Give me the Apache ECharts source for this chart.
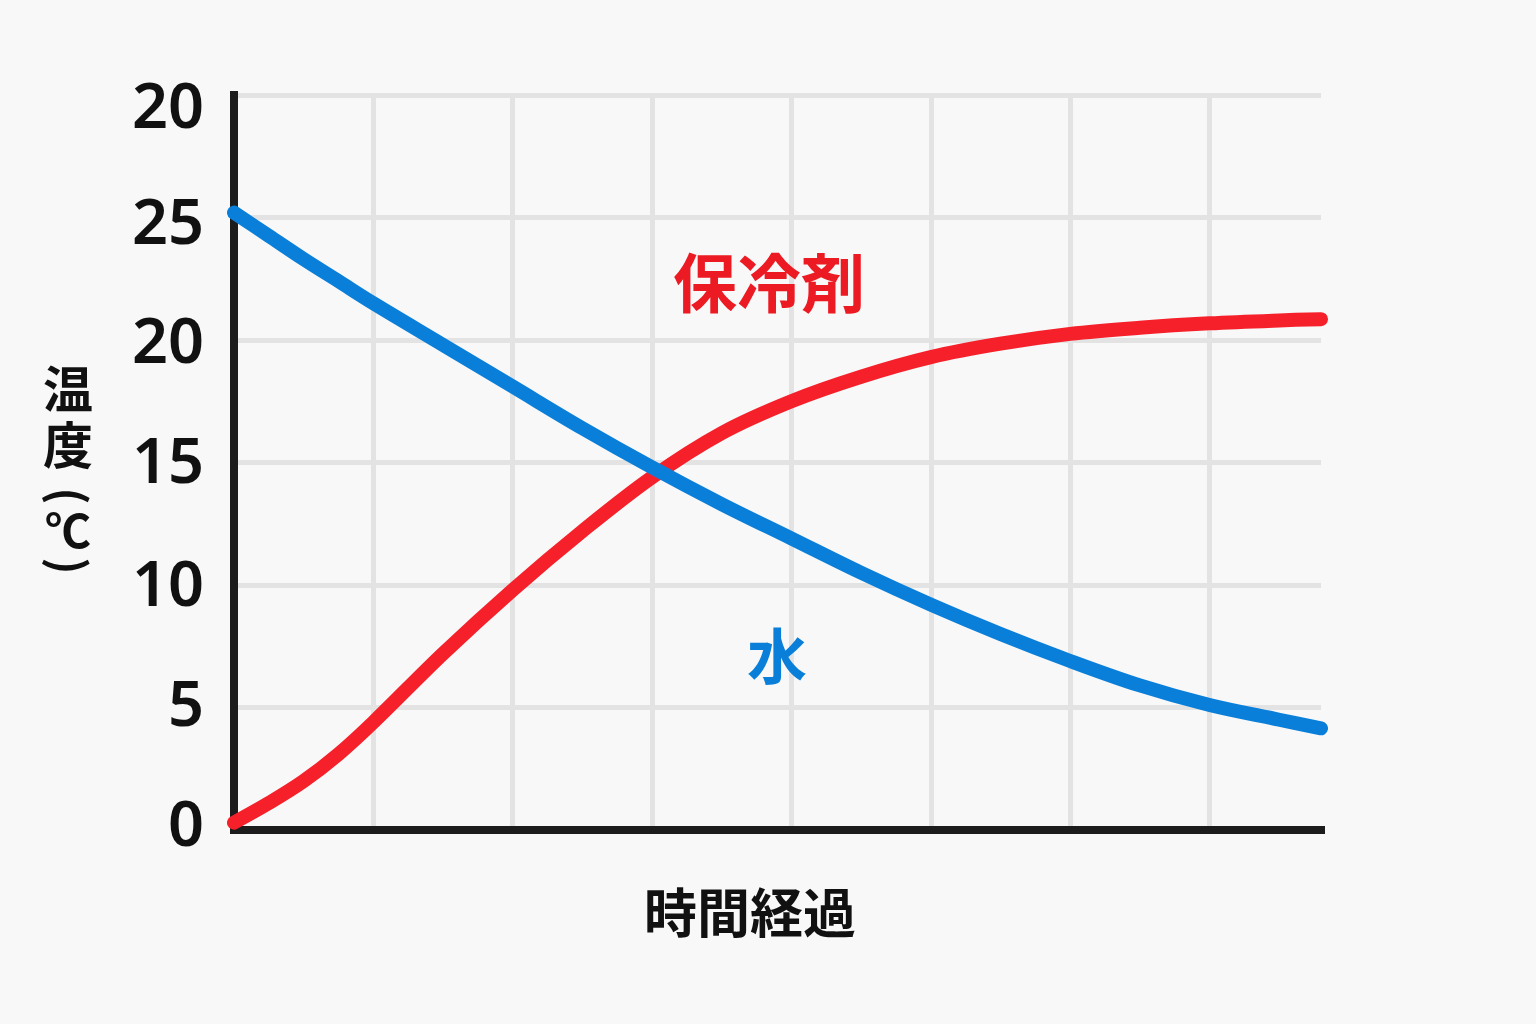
<!DOCTYPE html>
<html>
<head>
<meta charset="utf-8">
<script src="https://cdn.jsdelivr.net/npm/echarts@6/dist/echarts.min.js"></script>
<style>
html,body{margin:0;padding:0;background:#f8f8f8;}
#chart{width:1536px;height:1024px;}
</style>
</head>
<body>
<div id="chart"></div>
<script>
// x positions (time steps, arbitrary units)
const timeSteps = [0, 0.25, 0.5, 0.75, 1, 1.5, 2, 2.5, 3, 3.5, 4, 4.5, 5, 5.5, 6, 6.5, 7, 7.5, 7.8];
// 保冷剤 temperature (°C)
const coolantTemp = [0.3, 1.1, 2.0, 3.1, 4.4, 7.2, 9.8, 12.2, 14.4, 16.2, 17.5, 18.5, 19.3, 19.85, 20.25, 20.5, 20.68, 20.8, 20.85];
// 水 temperature (°C)
const waterTemp = [25.2, 24.25, 23.3, 22.4, 21.5, 19.8, 18.1, 16.4, 14.8, 13.3, 11.9, 10.5, 9.2, 8.0, 6.9, 5.9, 5.1, 4.5, 4.15];
// y tick labels as printed in the original (bottom to top)
const yTickLabels = ["0", "5", "10", "15", "20", "25", "20"];
const seriesNames = ["保冷剤", "水"];
const xAxisName = "時間経過";
const yAxisNameParts = ["温", "度", "(", "℃", ")"];

const CJK = '"Noto Sans CJK JP", "Noto Sans", sans-serif';
const RED = '#f5202a';
const BLUE = '#0a7fd9';

function pairs(xs, ys) { return xs.map((x, i) => [x, ys[i]]); }

// small per-label vertical nudges (px) to match the original label placement
const labelNudge = [-2, 1, 3, 3, 5, 9, 15];
const richLabels = {};
labelNudge.forEach((d, i) => {
  richLabels['l' + i] = {
    fontFamily: '"Noto Sans", sans-serif', fontSize: 63, fontWeight: 600, color: '#111',
    padding: d >= 0 ? [2 * d, 0, 0, 0] : [0, 0, -2 * d, 0]
  };
});

// vertical y-axis title: upright characters, parentheses turned for vertical writing
const yNameLayout = [
  { y: 389, size: 50, rot: 0 },
  { y: 445, size: 50, rot: 0 },
  { y: 496, size: 46, rot: -Math.PI / 2 },
  { y: 531, size: 46, rot: 0 },
  { y: 566, size: 46, rot: -Math.PI / 2 }
];
const yNameGraphics = yAxisNameParts.map((t, i) => ({
  type: 'text', x: 68, y: yNameLayout[i].y, rotation: yNameLayout[i].rot, z: 10,
  style: { text: t, font: 'bold ' + yNameLayout[i].size + 'px ' + CJK, fill: '#111',
           textAlign: 'center', textVerticalAlign: 'middle' }
}));

const chart = echarts.init(document.getElementById('chart'));
chart.setOption({
  backgroundColor: '#f8f8f8',
  animation: false,
  grid: { left: 234, right: 215, top: 95, bottom: 194 },
  xAxis: {
    type: 'value', min: 0, max: 7.8, interval: 1,
    axisLine: { show: true, onZero: false, lineStyle: { color: '#1c1c1c', width: 8, cap: 'square' } },
    axisTick: { show: false },
    axisLabel: { show: false },
    splitLine: { show: true, showMinLine: false, showMaxLine: false, lineStyle: { color: '#e3e3e3', width: 5 } },
    name: xAxisName, nameLocation: 'middle', nameGap: 56,
    nameTextStyle: { fontFamily: CJK, fontSize: 53, fontWeight: 'bold', color: '#111', lineHeight: 54, padding: [0, 55, 0, 0] }
  },
  yAxis: {
    type: 'value', min: 0, max: 30, interval: 5,
    axisLine: { show: true, lineStyle: { color: '#1c1c1c', width: 8, cap: 'square' } },
    axisTick: { show: false },
    axisLabel: {
      margin: 30,
      formatter: (v, i) => '{l' + i + '|' + yTickLabels[i] + '}',
      rich: richLabels
    },
    splitLine: { show: true, showMinLine: false, lineStyle: { color: '#e3e3e3', width: 5 } }
  },
  series: [
    {
      name: seriesNames[0], type: 'line', data: pairs(timeSteps, coolantTemp),
      smooth: 0.35, showSymbol: false, symbol: 'none',
      lineStyle: { color: RED, width: 14, cap: 'round', join: 'round' }
    },
    {
      name: seriesNames[1], type: 'line', data: pairs(timeSteps, waterTemp),
      smooth: 0.35, showSymbol: false, symbol: 'none',
      lineStyle: { color: BLUE, width: 14, cap: 'round', join: 'round' }
    }
  ],
  graphic: yNameGraphics.concat([
    { type: 'text', x: 769, y: 283, z: 10,
      style: { text: seriesNames[0], font: 'bold 64px ' + CJK, fill: '#ec1a22', textAlign: 'center', textVerticalAlign: 'middle' } },
    { type: 'text', x: 777, y: 656, z: 10,
      style: { text: seriesNames[1], font: 'bold 60px ' + CJK, fill: BLUE, textAlign: 'center', textVerticalAlign: 'middle' } }
  ])
});
</script>
</body>
</html>
